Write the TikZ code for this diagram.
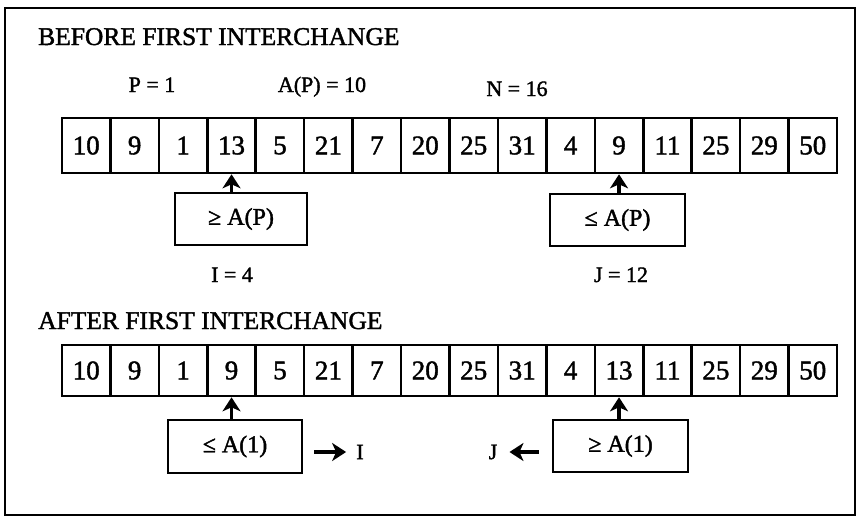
\documentclass[tikz,border=0pt]{standalone}
\usepackage{fontspec}
\setmainfont{Liberation Serif}[FakeBold=1.6]
\usetikzlibrary{arrows.meta}
\begin{document}
\begin{tikzpicture}[x=1pt,y=-1pt,
  cellA/.style={draw,line width=2.6pt,minimum width=48.44pt,minimum height=55pt,inner sep=0pt,font=\fontsize{27}{30}\selectfont},
  cellB/.style={cellA,minimum height=51pt},
  cond/.style={draw,line width=2.2pt,inner sep=0pt,minimum height=52pt,font=\fontsize{24}{26}\selectfont},
  lab/.style={inner sep=0pt,anchor=base,font=\fontsize{22}{24}\selectfont},
  head/.style={inner sep=0pt,anchor=base west,font=\fontsize{25.5}{28}\selectfont},
  arr/.style={line width=3.2pt,-{Stealth[length=14pt,width=18pt,inset=4pt]}},
]
\useasboundingbox (0,0) rectangle (859,522);
\draw[line width=2.8pt] (5,8) rectangle (855,515);

% before
\node[head] (t1) at (38,45) {BEFORE FIRST INTERCHANGE};
\node[lab] (p) at (152,92) {P = 1};
\node[lab] (ap) at (322,92) {A(P) = 10};
\node[lab] (n) at (517,96) {N = 16};
\foreach \v [count=\i] in {10,9,1,13,5,21,7,20,25,31,4,9,11,25,29,50}
  \node[cellA] (a\i) at ({62+(\i-0.5)*48.4375},145.5) {\v};
\node[cond,minimum width=132pt] (b1) at (241,219) {≥ A(P)};
\node[cond,minimum width=135pt] (b2) at (617.5,220) {≤ A(P)};
\draw[arr] (b1.north -| a4) -- (a4.south);
\draw[arr] (b2.north -| a12) -- (a12.south);
\node[lab] (i1) at (232,282) {I = 4};
\node[lab] (j1) at (621,282) {J = 12};

% after
\node[head] (t2) at (38,329) {AFTER FIRST INTERCHANGE};
\foreach \v [count=\i] in {10,9,1,9,5,21,7,20,25,31,4,13,11,25,29,50}
  \node[cellB] (c\i) at ({62+(\i-0.5)*48.4375},370.5) {\v};
\node[cond,minimum width=134pt,minimum height=53pt] (b3) at (235,446.5) {≤ A(1)};
\node[cond,minimum width=135pt] (b4) at (620.5,446) {≥ A(1)};
\draw[arr] (b3.north -| c4) -- (c4.south);
\draw[arr] (b4.north -| c12) -- (c12.south);
\node[lab,anchor=center] (i2) at (360,452) {I};
\node[lab,anchor=center] (j2) at (493,452) {J};
\draw[arr] ([xshift=11pt]b3.east |- i2) -- ([xshift=-10pt]i2.west);
\draw[arr] ([xshift=-13pt]b4.west |- j2) -- ([xshift=12pt]j2.east);
\end{tikzpicture}
\end{document}
